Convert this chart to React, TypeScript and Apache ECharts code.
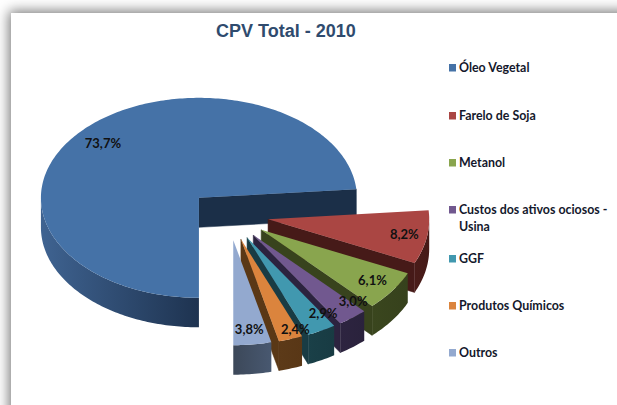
import React, { useEffect, useRef } from "react";
import * as echarts from "echarts";

const titleText = "CPV Total - 2010";
const categories = [
  "Óleo Vegetal",
  "Farelo de Soja",
  "Metanol",
  "Custos dos ativos ociosos -\nUsina",
  "GGF",
  "Produtos Químicos",
  "Outros",
];
const values = [73.7, 8.2, 6.1, 3.0, 2.9, 2.4, 3.8];
const topColors = ["#4572a7", "#aa4643", "#89a54e", "#71588f", "#4198af", "#db843d", "#93a9cf"];
const wallFrom = ["#3f6391", "#4a1c19", "#3a461e", "#2d2440", "#1a4048", "#5c3a18", "#3c4859"];
const wallTo = ["#1e3350", "#451a17", "#36411c", "#2a223c", "#183b43", "#593716", "#485870"];
const edgeColors = ["#1b2f48", "#461a18", "#38431d", "#2c233f", "#193c44", "#5a3816", "#3c4859"];
const legendY = [67, 115, 162, 209, 258, 305, 352];
const labelNudge = [[3, 3], [4, 0], [2, 1], [17, -1], [14, 0], [13, 9], [0, 4]];

const CX = 228.5;
const CY = 215;
const RX = 158;
const RY = 100;
const DEPTH = 29.5;
const EXPLODE = 0.254;
const FIRST_ANGLE = 180;
const LABEL_R = 0.85;
// Slices pulled toward the viewer look slightly larger in the perspective view.
const NEAR_X = 1.02;
const NEAR_Y = 1.05;

const total = values.reduce((a, b) => a + b, 0);
const starts: number[] = [];
values.reduce((acc, v, i) => {
  starts[i] = acc;
  return acc + (v / total) * 360;
}, FIRST_ANGLE);

const rad = (d: number) => (d * Math.PI) / 180;
const at = (ox: number, oy: number, a: number, kx = 1, ky = kx): number[] => [
  ox + kx * RX * Math.sin(rad(a)),
  oy - ky * RY * Math.cos(rad(a)),
];

function renderSlice(params: any, api: any) {
  const i = params.dataIndex;
  const value = api.value(0);
  const start = starts[i];
  const end = start + (value / total) * 360;
  const mid = (start + end) / 2;
  const [ax, ay] = at(CX, CY, mid, EXPLODE);
  const kx = i === 0 ? 1 : NEAR_X;
  const ky = i === 0 ? 1 : NEAR_Y;
  const rim = (a: number) => at(ax, ay, a, kx, ky);
  const children: any[] = [];

  const wallFill = new echarts.graphic.LinearGradient(0, 0, 1, 0, [
    { offset: 0, color: wallFrom[i] },
    { offset: 1, color: wallTo[i] },
  ]);

  // Outer wall: the part of the rim that faces the viewer.
  [[90, 270], [450, 630]].forEach(([lo, hi]) => {
    const a0 = Math.max(start, lo);
    const a1 = Math.min(end, hi);
    if (a1 <= a0) return;
    const upper: number[][] = [];
    const lower: number[][] = [];
    for (let a = a0; ; a += 1) {
      const aa = Math.min(a, a1);
      const p = rim(aa);
      upper.push(p);
      lower.unshift([p[0], p[1] + DEPTH]);
      if (aa >= a1) break;
    }
    children.push({
      type: "polygon",
      shape: { points: upper.concat(lower) },
      style: { fill: wallFill },
    });
  });

  // Radial cut walls.
  const radial = (angle: number) => {
    const p = rim(angle);
    children.push({
      type: "polygon",
      shape: { points: [[ax, ay], p, [p[0], p[1] + DEPTH], [ax, ay + DEPTH]] },
      style: { fill: edgeColors[i], stroke: edgeColors[i], lineWidth: 0.5 },
    });
  };
  const endN = end % 360;
  const startN = start % 360;
  if (endN > 0 && endN < 180) radial(end);
  if (startN > 180 && startN < 360) radial(start);

  // Top surface.
  const top: number[][] = [[ax, ay]];
  for (let a = start; ; a += 1) {
    const aa = Math.min(a, end);
    top.push(rim(aa));
    if (aa >= end) break;
  }
  children.push({
    type: "polygon",
    shape: { points: top },
    style: { fill: topColors[i] },
  });

  // Percentage label.
  const [lx, ly] = at(ax, ay, mid, LABEL_R);
  children.push({
    type: "text",
    z2: 100,
    style: {
      text: value.toFixed(1).replace(".", ",") + "%",
      x: lx + labelNudge[i][0],
      y: ly + labelNudge[i][1],
      align: "center",
      verticalAlign: "middle",
      font: "bold 13px Lato",
      fill: "#111111",
    },
  });

  return { type: "group", children };
}

const legendGraphics: any[] = categories.flatMap((name, i) => [
  {
    type: "rect",
    left: 449,
    top: legendY[i] - 3,
    shape: { width: 7, height: 7.5 },
    style: { fill: topColors[i] },
  },
  {
    type: "text",
    left: 459,
    top: legendY[i] - 8,
    style: {
      text: name,
      font: "bold 12.4px Lato",
      lineHeight: 17,
      fill: "#14182c",
    },
  },
]);

export default function App() {
  const ref = useRef<HTMLDivElement>(null);
  useEffect(() => {
    const chart = echarts.init(ref.current!, undefined, { renderer: "svg" });
    chart.setOption({
      animation: false,
      title: {
        text: titleText,
        left: 216,
        top: 22,
        padding: 0,
        textStyle: {
          fontFamily: "Liberation Sans",
          fontWeight: "bold",
          fontSize: 18,
          color: "#2f4b6e",
        },
      },
      graphic: legendGraphics,
      series: [
        {
          type: "custom",
          coordinateSystem: "none",
          renderItem: renderSlice,
          data: values.map((v, i) => ({ name: categories[i], value: [v] })),
        },
      ],
    });
    return () => chart.dispose();
  }, []);
  return (
    <div style={{ position: "absolute", left: 0, top: 0, width: 617, height: 405, overflow: "hidden", background: "#fff" }}>
      <div
        style={{
          position: "absolute",
          left: 11,
          top: 13,
          width: 800,
          height: 600,
          background: "#fff",
          boxShadow: "0 0 12px 2px #777777",
        }}
      />
      <div ref={ref} style={{ position: "absolute", left: 0, top: 0, width: 617, height: 405 }} />
    </div>
  );
}
